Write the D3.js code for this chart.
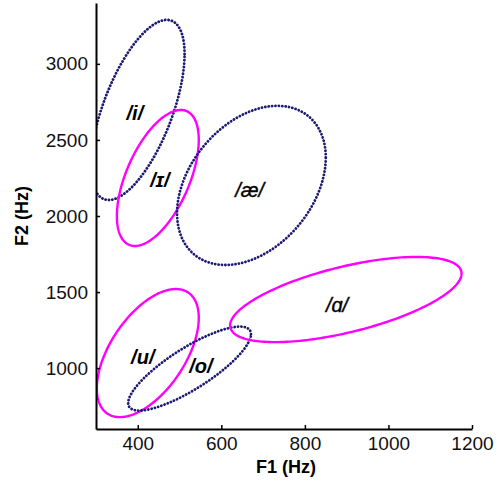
<!DOCTYPE html>
<html>
<head>
<meta charset="utf-8">
<script src="https://cdn.jsdelivr.net/npm/d3@7"></script>
<style>
  body { margin: 0; background: #fff; }
  text { font-family: "Liberation Sans", Arial, sans-serif; }
</style>
</head>
<body>
<div id="chart"></div>
<script>
// vowel space: F1 / F2 ellipses
const vowels = ['/i/', '/ɪ/', '/æ/', '/u/', '/o/', '/ɑ/']
const meanF1 = [400, 448, 672, 424, 524, 898]
const meanF2 = [2697, 2250, 2201, 1099, 997, 1451]
const spreadF1 = [112, 98, 178, 122, 147, 277]
const spreadF2 = [592, 447, 523, 421, 276, 280]
const corr = [0.62, 0.56, 0.35, 0.55, 0.82, 0.61]
const dotted = [true, false, true, false, true, false]
const labelF1 = [393, 453, 668, 412, 551, 877]
const labelF2 = [2678, 2237, 2171, 1072, 1013, 1414]
const boldLabel = [true, true, false, true, true, false]

const xTicks = [400, 600, 800, 1000, 1200]
const yTicks = [1000, 1500, 2000, 2500, 3000]

const width = 504, height = 482

let x = d3.scaleLinear().domain([300, 1200]).range([96, 472])
let y = d3.scaleLinear().domain([600, 3400]).range([429, 3])

let svg = d3.select('#chart')
    .append('svg')
    .attr('width', width)
    .attr('height', height)

svg.append('defs').append('clipPath')
    .attr('id', 'plot')
    .append('rect')
    .attr('x', x(300))
    .attr('y', 0)
    .attr('width', x(1200) - x(300) + 30)
    .attr('height', y(600))

// ellipse outline from mean, spread and correlation
function ellipse(i) {
    let r = corr[i], s = Math.sqrt(1 - r * r)
    return d3.range(0, 200).map(k => {
        let t = k / 200 * 2 * Math.PI
        return [meanF1[i] + spreadF1[i] * Math.cos(t),
                meanF2[i] + spreadF2[i] * (r * Math.cos(t) + s * Math.sin(t))]
    })
}

let line = d3.line()
    .x(d => x(d[0]))
    .y(d => y(d[1]))
    .curve(d3.curveLinearClosed)

svg.append('g')
    .attr('clip-path', 'url(#plot)')
    .selectAll('path')
    .data(vowels.map((v, i) => i))
    .join('path')
    .attr('d', i => line(ellipse(i)))
    .attr('fill', 'none')
    .attr('stroke', i => dotted[i] ? '#1c1a72' : '#ff00ff')
    .attr('stroke-width', i => dotted[i] ? 2.8 : 2.4)
    .attr('stroke-linecap', i => dotted[i] ? 'round' : 'butt')
    .attr('stroke-dasharray', i => dotted[i] ? '0.1 3.3' : null)

svg.append('g')
    .selectAll('text')
    .data(vowels)
    .join('text')
    .attr('x', (d, i) => x(labelF1[i]))
    .attr('y', (d, i) => y(labelF2[i]))
    .attr('dy', '0.36em')
    .attr('text-anchor', 'middle')
    .attr('font-size', 20)
    .attr('font-style', 'italic')
    .attr('font-weight', (d, i) => boldLabel[i] ? 'bold' : 'normal')
    .attr('stroke', (d, i) => boldLabel[i] ? null : '#000')
    .attr('stroke-width', 0.4)
    .text(d => d)

// axes, ticks pointing inward
let xAxis = svg.append('g')
    .attr('transform', `translate(0,${y(600)})`)
    .call(d3.axisBottom(x).tickValues(xTicks).tickFormat(d3.format('d'))
        .tickSizeInner(-4).tickSizeOuter(0).tickPadding(8))
let yAxis = svg.append('g')
    .attr('transform', `translate(${x(300)},0)`)
    .call(d3.axisLeft(y).tickValues(yTicks).tickFormat(d3.format('d'))
        .tickSizeInner(-4).tickSizeOuter(0).tickPadding(8))

;[xAxis, yAxis].forEach(a => {
    a.select('.domain').attr('stroke', '#000').attr('stroke-width', 2)
    a.selectAll('.tick line').attr('stroke', '#000').attr('stroke-width', 1.5)
    a.selectAll('.tick text')
        .attr('font-family', '"Liberation Sans", Arial, sans-serif')
        .attr('font-size', 19)
        .attr('fill', '#111')
})

svg.append('text')
    .attr('x', 286)
    .attr('y', 473)
    .attr('text-anchor', 'middle')
    .attr('font-size', 18)
    .attr('font-weight', 'bold')
    .text('F1 (Hz)')

svg.append('text')
    .attr('transform', 'translate(28,216) rotate(-90)')
    .attr('text-anchor', 'middle')
    .attr('font-size', 18)
    .attr('font-weight', 'bold')
    .text('F2 (Hz)')
</script>
</body>
</html>
